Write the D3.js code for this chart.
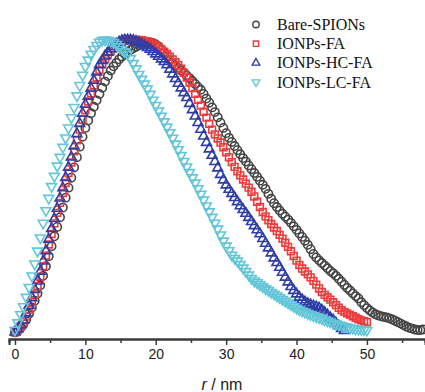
<!DOCTYPE html>
<html>
<head>
<meta charset="utf-8">
<script src="https://cdn.jsdelivr.net/npm/d3@7"></script>
<style>
  body { margin: 0; background: #fff; }
</style>
</head>
<body>
<div id="chart"></div>
<script>
// series names, in legend order
const seriesNames = ["Bare-SPIONs", "IONPs-FA", "IONPs-HC-FA", "IONPs-LC-FA"];
// r grid step (nm) of the sampled distributions
const rStep = 0.4;
const xTicks = [0, 10, 20, 30, 40, 50];

// normalised p(r) values, one every rStep nm starting at r = 0
const bareVals = [
  0.002, 0.008, 0.018, 0.03, 0.046, 0.066, 0.087, 0.11, 0.135, 0.163,
  0.195, 0.228, 0.262, 0.296, 0.33, 0.362, 0.395, 0.428, 0.462, 0.496,
  0.53, 0.565, 0.6, 0.636, 0.67, 0.7, 0.725, 0.75, 0.772, 0.794,
  0.816, 0.837, 0.858, 0.877, 0.896, 0.91, 0.922, 0.934, 0.944, 0.952,
  0.96, 0.966, 0.972, 0.977, 0.982, 0.986, 0.989, 0.991, 0.992, 0.99,
  0.985, 0.978, 0.968, 0.956, 0.944, 0.932, 0.92, 0.912, 0.904, 0.896,
  0.888, 0.879, 0.87, 0.86, 0.85, 0.84, 0.83, 0.816, 0.8, 0.786,
  0.77, 0.754, 0.736, 0.718, 0.7, 0.682, 0.666, 0.652, 0.638, 0.624,
  0.61, 0.597, 0.585, 0.572, 0.559, 0.546, 0.533, 0.52, 0.506, 0.492,
  0.475, 0.458, 0.443, 0.43, 0.418, 0.407, 0.397, 0.387, 0.376, 0.364,
  0.352, 0.34, 0.328, 0.315, 0.301, 0.286, 0.27, 0.258, 0.248, 0.239,
  0.23, 0.221, 0.212, 0.204, 0.195, 0.185, 0.175, 0.164, 0.154, 0.145,
  0.135, 0.126, 0.118, 0.105, 0.095, 0.085, 0.077, 0.07, 0.064, 0.06,
  0.057, 0.055, 0.053, 0.05, 0.046, 0.042, 0.037, 0.032, 0.027, 0.022,
  0.018, 0.015, 0.012, 0.01, 0.01, 0.012
];
const faVals = [
  0.002, 0.01, 0.022, 0.036, 0.056, 0.08, 0.105, 0.132, 0.16, 0.192,
  0.228, 0.264, 0.302, 0.338, 0.374, 0.41, 0.444, 0.478, 0.512, 0.546,
  0.582, 0.62, 0.658, 0.694, 0.728, 0.76, 0.79, 0.818, 0.845, 0.872,
  0.898, 0.918, 0.935, 0.95, 0.962, 0.972, 0.98, 0.987, 0.993, 0.997,
  1.0, 1.0, 1.0, 1.0, 1.0, 0.999, 0.997, 0.995, 0.992, 0.988,
  0.982, 0.976, 0.968, 0.96, 0.952, 0.943, 0.934, 0.924, 0.914, 0.902,
  0.888, 0.872, 0.855, 0.836, 0.816, 0.796, 0.776, 0.755, 0.735, 0.714,
  0.694, 0.678, 0.664, 0.65, 0.634, 0.617, 0.6, 0.583, 0.567, 0.552,
  0.538, 0.524, 0.51, 0.496, 0.482, 0.466, 0.448, 0.43, 0.413, 0.398,
  0.385, 0.372, 0.36, 0.348, 0.335, 0.322, 0.308, 0.294, 0.279, 0.263,
  0.247, 0.232, 0.22, 0.21, 0.2, 0.19, 0.178, 0.165, 0.152, 0.14,
  0.13, 0.122, 0.114, 0.105, 0.095, 0.086, 0.078, 0.072, 0.067, 0.062,
  0.057, 0.052, 0.047, 0.043, 0.04, 0.037
];
const hcVals = [
  0.003, 0.013, 0.028, 0.044, 0.068, 0.094, 0.12, 0.148, 0.177, 0.21,
  0.245, 0.28, 0.32, 0.356, 0.39, 0.425, 0.46, 0.495, 0.53, 0.565,
  0.6, 0.638, 0.68, 0.715, 0.75, 0.78, 0.808, 0.835, 0.862, 0.89,
  0.915, 0.93, 0.945, 0.958, 0.97, 0.978, 0.986, 0.993, 0.998, 1.0,
  1.0, 1.0, 0.998, 0.995, 0.991, 0.986, 0.98, 0.974, 0.968, 0.96,
  0.952, 0.944, 0.935, 0.926, 0.915, 0.9, 0.884, 0.868, 0.852, 0.836,
  0.82, 0.803, 0.783, 0.762, 0.74, 0.718, 0.695, 0.672, 0.65, 0.628,
  0.606, 0.585, 0.563, 0.541, 0.522, 0.505, 0.49, 0.476, 0.462, 0.448,
  0.434, 0.421, 0.408, 0.394, 0.38, 0.366, 0.352, 0.338, 0.322, 0.306,
  0.29, 0.273, 0.256, 0.24, 0.224, 0.207, 0.19, 0.174, 0.158, 0.145,
  0.133, 0.122, 0.113, 0.106, 0.1, 0.096, 0.092, 0.089, 0.085, 0.078,
  0.07, 0.061, 0.052, 0.044, 0.034, 0.024, 0.015, 0.008
];
const lcVals = [
  0.01, 0.035, 0.063, 0.09, 0.122, 0.156, 0.195, 0.236, 0.28, 0.325,
  0.375, 0.418, 0.46, 0.5, 0.535, 0.57, 0.6, 0.634, 0.666, 0.7,
  0.735, 0.77, 0.81, 0.845, 0.88, 0.91, 0.932, 0.952, 0.968, 0.982,
  0.993, 0.999, 1.0, 0.999, 0.996, 0.992, 0.985, 0.977, 0.968, 0.96,
  0.952, 0.937, 0.92, 0.902, 0.883, 0.866, 0.85, 0.833, 0.815, 0.795,
  0.777, 0.758, 0.74, 0.721, 0.703, 0.684, 0.665, 0.645, 0.626, 0.606,
  0.586, 0.567, 0.548, 0.53, 0.512, 0.493, 0.474, 0.454, 0.434, 0.414,
  0.395, 0.375, 0.355, 0.335, 0.314, 0.297, 0.281, 0.266, 0.255, 0.246,
  0.234, 0.222, 0.21, 0.198, 0.186, 0.178, 0.172, 0.165, 0.158, 0.151,
  0.145, 0.139, 0.133, 0.127, 0.121, 0.115, 0.109, 0.103, 0.097, 0.091,
  0.085, 0.079, 0.075, 0.071, 0.067, 0.063, 0.059, 0.056, 0.052, 0.049,
  0.045, 0.041, 0.038, 0.034, 0.031, 0.028, 0.025, 0.022, 0.02, 0.017,
  0.016, 0.014, 0.013, 0.012, 0.011, 0.01
];

const width = 425, height = 392;

const svg = d3.select("#chart").append("svg")
    .attr("width", width)
    .attr("height", height)
    .attr("viewBox", [0, 0, width, height]);

const x = d3.scaleLinear().domain([-0.85, 58.25]).range([9, 425]);
const y = d3.scaleLinear().domain([0, 1]).range([333, 40]);

// marker styles per series
const styles = [
    {color: "#444444", type: d3.symbolCircle, size: 54, rot: 0},
    {color: "#ee3b3b", type: d3.symbolSquare, size: 46, rot: 0},
    {color: "#2e3ea6", type: d3.symbolTriangle, size: 42, rot: 0},
    {color: "#62c6d8", type: d3.symbolTriangle, size: 42, rot: 180}
];
const allVals = [bareVals, faVals, hcVals, lcVals];

// x axis (ticks outside, minor ticks at the 5s)
const axisY = 339;
const gx = svg.append("g").attr("transform", `translate(0,${axisY})`);
gx.call(d3.axisBottom(x).tickValues(d3.range(5, 60, 10)).tickSize(4).tickFormat(""));
gx.call(g => g.append("g").call(d3.axisBottom(x).tickValues(xTicks).tickSize(6).tickPadding(4)));
gx.selectAll(".domain").attr("stroke", "#3a3a3a").attr("stroke-width", 2);
gx.selectAll(".tick line").attr("stroke", "#3a3a3a").attr("stroke-width", 1.5);
gx.selectAll(".tick text")
    .attr("fill", "#222")
    .style("font", "14px 'Liberation Sans', Arial, sans-serif");

svg.append("text")
    .attr("x", 222)
    .attr("y", 390)
    .attr("text-anchor", "middle")
    .attr("fill", "#222")
    .style("font", "16px 'Liberation Sans', Arial, sans-serif")
    .call(t => {
        t.append("tspan").style("font-style", "italic").text("r");
        t.append("tspan").text(" / nm");
    });

// data points
const plot = svg.append("g");
allVals.forEach((vals, s) => {
    const st = styles[s];
    const sym = d3.symbol().type(st.type).size(st.size);
    plot.append("g")
        .selectAll("path")
        .data(vals)
        .join("path")
        .attr("d", sym)
        .attr("transform", (d, i) => `translate(${x(i * rStep)},${y(d)}) rotate(${st.rot})`)
        .attr("fill", "none")
        .attr("stroke", st.color)
        .attr("stroke-width", 1.6);
});

// legend
const leg = svg.append("g");
seriesNames.forEach((name, s) => {
    const st = styles[s];
    const cy = 24.5 + s * 19.2;
    leg.append("path")
        .attr("d", d3.symbol().type(st.type).size(st.size * 0.6))
        .attr("transform", `translate(256,${cy}) rotate(${st.rot})`)
        .attr("fill", "none")
        .attr("stroke", st.color)
        .attr("stroke-width", 1.4);
    leg.append("text")
        .attr("x", 277)
        .attr("y", cy + 5.5)
        .attr("fill", "#111")
        .style("font", "16px 'Liberation Serif', 'Times New Roman', serif")
        .text(name);
});
</script>
</body>
</html>
